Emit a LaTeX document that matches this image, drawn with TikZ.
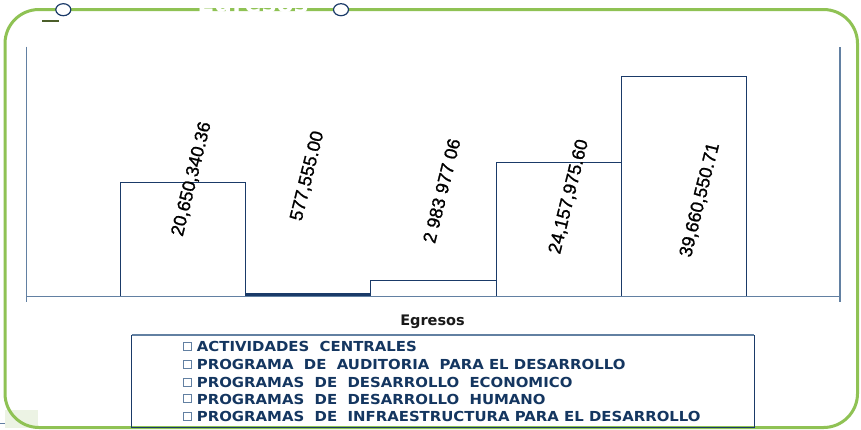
\documentclass[tikz,border=0pt]{standalone}
\usepackage{fontspec}
\setmainfont{Liberation Sans}
\newfontfamily\djb{DejaVu Sans Bold}
\newfontfamily\djbw[FakeStretch=1.08]{DejaVu Sans Bold}
\newfontfamily\lib[FakeBold=1.1]{Liberation Sans}
\definecolor{grn}{RGB}{143,194,84}
\definecolor{navy}{RGB}{26,58,104}
\definecolor{axc}{RGB}{98,128,162}
\definecolor{legtxt}{RGB}{20,54,96}
\definecolor{olive}{RGB}{75,94,42}
\definecolor{palegrn}{RGB}{236,243,228}
\tikzset{
  barbox/.style={draw=navy, line width=0.9pt, fill=white},
  vallabel/.style={font=\lib\fontsize{18.3}{20}\selectfont, rotate=76, inner sep=0pt, text=black},
  legkey/.style={draw=axc, line width=0.9pt, minimum size=8pt, inner sep=0pt, fill=white},
  legtext/.style={font=\djbw\fontsize{13.8}{15}\selectfont, text=legtxt, anchor=base west, inner sep=0pt},
  axline/.style={draw=axc, line width=1.2pt},
  knob/.style={draw=navy, line width=1.2pt, fill=white, ellipse, minimum width=15pt, minimum height=12pt, inner sep=0pt}
}
\usetikzlibrary{shapes.geometric}
\begin{document}
\begin{tikzpicture}[x=1pt,y=-1pt]
\useasboundingbox (0,0) rectangle (861,429);
\fill[white] (0,0) rectangle (861,429);
% pale patch bottom-left
\fill[palegrn] (5,410) rectangle (38,428);
% green rounded frame
\draw[grn, line width=3pt, rounded corners=34pt] (5,9.5) rectangle (857.5,427.5);
% white title fragment on top line
\node[font=\djb\fontsize{25}{27}\selectfont, text=white, anchor=base, inner sep=0pt] (ttl) at (253,12.5) {Egresos};
% knobs
\node[knob] (k1) at (63.3,9.7) {};
\node[knob] (k2) at (341,9.7) {};
% small olive dash
\draw[olive, line width=1.6pt] (42,21) -- (59,21);
% axes
\coordinate (axTL) at (26.7,46.7);
\coordinate (axBL) at (26.7,302);
\coordinate (axTR) at (840,47);
\coordinate (axBR) at (840,302);
\coordinate (hx0) at (26.7,296.5);
\coordinate (hx1) at (840,296.5);
\draw[axline] (axTL) -- (axBL);
\draw[axline] (axTR) -- (axBR);
% bars
\draw[barbox] (120.7,296.5) rectangle (245.3,182.3);
\fill[navy] (245.3,293.2) rectangle (370.7,296.5);
\draw[barbox] (370.7,296.5) rectangle (496,280.7);
\draw[barbox] (496,296.5) rectangle (621,162.7);
\draw[barbox] (621,296.5) rectangle (746.3,76.7);
\draw[axline] (hx0) -- (hx1);
% value labels
\node[vallabel] (v1) at (191.7,179) {20,650,340.36};
\node[vallabel] (v2) at (307.5,176) {577,555.00};
\node[vallabel] (v3) at (441.7,190.8) {2 983 977 06};
\node[vallabel] (v4) at (569,196.7) {24,157,975.60};
\node[vallabel] (v5) at (700,200) {39,660,550.71};
% axis title
\node[font=\djb\fontsize{14.5}{16}\selectfont, text=black!90, anchor=base, inner sep=0pt] (xt) at (432.5,325.7) {Egresos};
% legend box
\draw[navy, line width=0.9pt] (131.7,335) rectangle (754.3,427);
\draw[axc, line width=1.2pt] (131.7,335) -- (754.3,335);
\node[legkey] (q1) at (187,346.5) {};
\node[legkey] (q2) at (187,364) {};
\node[legkey] (q3) at (187,382) {};
\node[legkey] (q4) at (187,398.7) {};
\node[legkey] (q5) at (187,416.3) {};
\node[legtext] (t1) at (196.7,351.7) {ACTIVIDADES\ \ CENTRALES};
\node[legtext] (t2) at (196.7,369) {PROGRAMA\ \ DE\ \ AUDITORIA\ \ PARA EL DESARROLLO};
\node[legtext] (t3) at (196.7,387.3) {PROGRAMAS\ \ DE\ \ DESARROLLO\ \ ECONOMICO};
\node[legtext] (t4) at (196.7,404) {PROGRAMAS\ \ DE\ \ DESARROLLO\ \ HUMANO};
\node[legtext] (t5) at (196.7,421.7) {PROGRAMAS\ \ DE\ \ INFRAESTRUCTURA PARA EL DESARROLLO};
% tiny mark bottom-left
\draw[axc, line width=0.8pt] (0,423) -- (5,423);
\end{tikzpicture}
\end{document}
